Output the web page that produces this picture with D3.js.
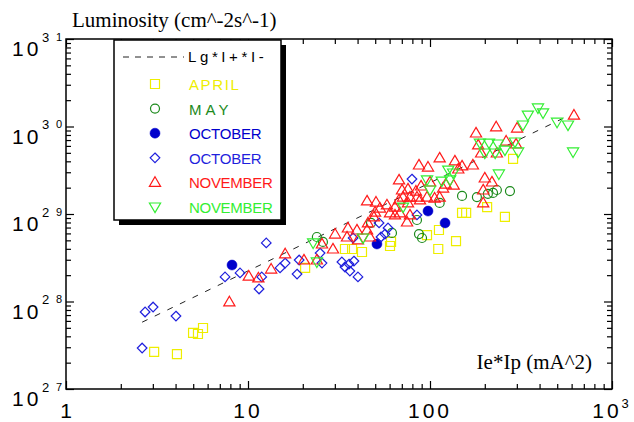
<!DOCTYPE html>
<html>
<head>
<meta charset="utf-8">
<style>
body { margin: 0; background: #fff; }
svg { display: block; }
.axis .domain { display: none; }
.axis line { stroke: #000; stroke-width: 1.2; }
.tick-lab { font-family: "Liberation Sans", Arial, sans-serif; fill: #000; }
.title { font-family: "Liberation Serif", "Times New Roman", serif; font-size: 21px; fill: #000; }
.leg { font-family: "Liberation Sans", Arial, sans-serif; font-size: 15px; }
</style>
</head>
<body>
<div id="container"></div>
<script src="https://cdn.jsdelivr.net/npm/d3@7"></script>
<script>
var width = 634, height = 422;
var margin = {top: 39, right: 22, bottom: 33, left: 66};
var w = width - margin.left - margin.right,
    h = height - margin.top - margin.bottom;

// axis ticks / labels
var xTicks = [1, 10, 100, 1000];
var xTickLabels = ["1", "10", "100", "10"];
var xTickSup = ["", "", "", "3"];
var yTicks = [1e31, 1e30, 1e29, 1e28, 1e27];
var yTickSup = ["3", "3", "2", "2", "2"];
var yTickSmall = ["1", "0", "9", "8", "7"];

// fit line Lg*I+*I-
var fitX = [2.62, 573];
var fitY = [5.8e27, 1.32e30];

// APRIL (open squares)
var aprilX = [5.66, 4.99, 5.31, 3.05, 4.07, 150, 158, 112, 96.3, 139, 111, 61.1, 60.3, 34.1, 37.3, 42.3, 20.6, 286, 206, 258];
var aprilY = [4.98e27, 4.37e27, 4.25e27, 2.65e27, 2.51e27, 1.03e29, 1.03e29, 6.56e28, 5.75e28, 4.91e28, 3.98e28, 4.79e28, 4.31e28, 3.98e28, 3.98e28, 3.68e28, 2.42e28, 4.26e29, 1.20e29, 9.25e28];

// MAY (open circles)
var mayX = [150, 181, 113, 84.8, 87, 90.4, 61.8, 47.4, 23.9, 25.8, 208, 222, 233, 275];
var mayY = [1.61e29, 1.56e29, 1.34e29, 8.54e28, 5.9e28, 5.32e28, 6.07e28, 7.9e28, 5.46e28, 4.79e28, 1.70e29, 1.74e29, 1.88e29, 1.83e29];

// OCTOBER (filled circles)
var octAX = [8.17, 51.1, 97.5, 121];
var octAY = [2.61e28, 4.54e28, 1.08e29, 7.9e28];

// OCTOBER (open diamonds)
var octBX = [12.6, 7.48, 9.04, 11.5, 11.9, 15.0, 16.0, 18.6, 19.1, 2.72, 3.01, 4.02, 2.62, 79.6, 52.5, 58.8, 56.6, 53.8, 84.8, 37.8, 32.8, 35.9, 38.2, 34.1, 24.9, 25.5, 36.3, 40.2];
var octBY = [4.67e28, 1.91e28, 2.12e28, 1.39e28, 1.91e28, 2.42e28, 2.75e28, 2.06e28, 2.98e28, 7.59e27, 8.65e27, 6.82e27, 2.94e27, 2.51e29, 7.9e28, 6.92e28, 5.9e28, 5.46e28, 9.75e28, 5.32e28, 2.83e28, 2.68e28, 2.9e28, 2.48e28, 3.58e28, 2.75e28, 2.23e28, 1.91e28];

// NOVEMBER (red triangles)
var novAX = [16, 13.4, 10.1, 11.4, 7.9, 113, 87, 97.5, 137, 143, 67.6, 75.7, 70.2, 83.7, 89.3, 100, 84.8, 77.6, 71.1, 67.6, 75.7, 88.1, 96.3, 106, 113, 45.1, 50.5, 58.0, 64.2, 49.9, 53.1, 60.3, 68.4, 77.6, 74.8, 64.2, 45.6, 49.2, 45.1, 39.7, 35.4, 30.1, 35.0, 40.2, 46.8, 25.5, 29.3, 20.3, 23.9, 135, 122, 150, 179, 172, 618, 231, 301, 184, 262, 297, 191, 233, 200, 219, 196, 196, 118];
var novAY = [3.5e28, 2.35e28, 1.95e28, 1.86e28, 9.9e27, 4.37e29, 3.63e29, 3.44e29, 4.04e29, 3.27e29, 2.45e29, 1.93e29, 1.88e29, 1.83e29, 2.09e29, 2.32e29, 1.56e29, 1.56e29, 1.56e29, 1.45e29, 1.34e29, 1.45e29, 1.56e29, 1.52e29, 1.56e29, 1.41e29, 1.37e29, 1.27e29, 1.20e29, 1.05e29, 1.17e29, 1.03e29, 1.03e29, 9.75e28, 8.1e28, 9.75e28, 7.9e28, 9.25e28, 6.56e28, 6.56e28, 6.92e28, 5.9e28, 5.46e28, 5.05e28, 5.46e28, 4.54e28, 3.98e28, 2.98e28, 2.98e28, 2.14e29, 2.2e29, 3.54e29, 8.43e29, 3.63e29, 1.35e30, 9.9e29, 9.6e29, 6.15e29, 6.82e29, 6.31e29, 4.98e29, 4.98e29, 2.58e29, 2.32e29, 1.88e29, 1.34e29, 1.98e29];

// NOVEMBER (green inverted triangles)
var novBX = [96.3, 100, 116, 126, 129, 71.1, 42.8, 22.8, 23.9, 188, 392, 418, 345, 324, 499, 573, 611, 211, 236, 200, 228, 258, 293, 305, 239, 134];
var novBY = [2.45e29, 1.88e29, 2.38e29, 3.18e29, 2.45e29, 1.20e29, 5.32e28, 4.67e28, 2.83e28, 6.47e29, 1.63e30, 1.43e30, 1.35e30, 1.04e30, 1.12e30, 1.04e30, 5.12e29, 6.47e29, 6.31e29, 4.98e29, 4.98e29, 5.38e29, 6.65e29, 5.12e29, 2.87e29, 2.94e29];

var legendLabels = ["APRIL", "MAY", "OCTOBER", "OCTOBER", "NOVEMBER", "NOVEMBER"];

var shapes = {
  square: "M-4.5,-4.5h9v9h-9Z",
  circle: "M-4.5,0a4.5,4.5 0 1,0 9,0a4.5,4.5 0 1,0 -9,0Z",
  dot: "M-5,0a5,5 0 1,0 10,0a5,5 0 1,0 -10,0Z",
  diamond: "M0,-4.8L4.8,0L0,4.8L-4.8,0Z",
  up: "M0,-5.6L5.6,4L-5.6,4Z",
  down: "M0,5.6L5.6,-4L-5.6,-4Z"
};

var series = [
  {xs: aprilX, ys: aprilY, color: "#eeee00", shape: "square", fill: false, ls: 1.6},
  {xs: mayX, ys: mayY, color: "#1c8a1c", shape: "circle", fill: false, ls: 4},
  {xs: octAX, ys: octAY, color: "#0000cc", shape: "dot", fill: true, ls: -0.2},
  {xs: octBX, ys: octBY, color: "#1f1fdd", shape: "diamond", fill: false, ls: -0.2},
  {xs: novAX, ys: novAY, color: "#ff1a1a", shape: "up", fill: false, ls: -0.3},
  {xs: novBX, ys: novBY, color: "#33ee33", shape: "down", fill: false, ls: -0.3}
];

var svg = d3.select("#container").append("svg")
    .attr("width", width).attr("height", height);

var g = svg.append("g").attr("transform", "translate(" + margin.left + "," + margin.top + ")");

var x = d3.scaleLog().domain([1, 1000]).range([0, w]);
var y = d3.scaleLog().domain([1e27, 1e31]).range([h, 0]);

// minor tick values
var xMinor = [];
[1, 10, 100].forEach(function(d) { for (var k = 2; k <= 9; k++) xMinor.push(d * k); });
var yMinor = [];
[1e27, 1e28, 1e29, 1e30].forEach(function(d) { for (var k = 2; k <= 9; k++) yMinor.push(d * k); });

function addAxes(axisFn, scale, tr, minorVals, majorVals) {
  g.append("g").attr("class", "axis").attr("transform", tr)
    .call(axisFn(scale).tickValues(minorVals).tickSize(-5).tickFormat(""));
  g.append("g").attr("class", "axis").attr("transform", tr)
    .call(axisFn(scale).tickValues(majorVals).tickSize(-8).tickFormat(""));
}
addAxes(d3.axisBottom, x, "translate(0," + h + ")", xMinor, xTicks);
addAxes(d3.axisTop, x, "translate(0,0)", xMinor, xTicks);
addAxes(d3.axisLeft, y, "translate(0,0)", yMinor, yTicks);
addAxes(d3.axisRight, y, "translate(" + w + ",0)", yMinor, yTicks);

g.append("rect").attr("width", w).attr("height", h)
  .attr("fill", "none").attr("stroke", "#000").attr("stroke-width", 1.5);

// x tick labels
var xl = g.append("g").selectAll("text").data(xTicks).enter().append("text")
  .attr("class", "tick-lab")
  .attr("x", function(d) { return x(d); })
  .attr("y", h + 29)
  .attr("text-anchor", "middle")
  .attr("font-size", 21)
  .attr("letter-spacing", function(d, i) { return i == 0 ? 0 : 3; });
xl.append("tspan").text(function(d, i) { return xTickLabels[i]; });
xl.append("tspan").attr("font-size", 13).attr("dy", -10).attr("dx", 0)
  .text(function(d, i) { return xTickSup[i]; });

// y tick labels
var yl = g.append("g").selectAll("g").data(yTicks).enter().append("g")
  .attr("transform", function(d) { return "translate(0," + y(d) + ")"; });
yl.append("text").attr("class", "tick-lab").attr("x", -54).attr("y", 17)
  .attr("font-size", 21).attr("letter-spacing", 3).text("10");
yl.append("text").attr("class", "tick-lab").attr("x", -24).attr("y", 2.5)
  .attr("font-size", 13).text(function(d, i) { return yTickSup[i]; });
yl.append("text").attr("class", "tick-lab").attr("x", -10).attr("y", 1.5)
  .attr("font-size", 11).text(function(d, i) { return yTickSmall[i]; });

// axis titles
svg.append("text").attr("class", "title").attr("x", 72).attr("y", 27)
  .text("Luminosity (cm^-2s^-1)");
svg.append("text").attr("class", "title").attr("x", 592).attr("y", 369)
  .attr("text-anchor", "end").attr("font-size", 20).text("Ie*Ip (mA^2)");

// fit line
var line = d3.line().x(function(d) { return x(d[0]); }).y(function(d) { return y(d[1]); });
g.append("path").datum(d3.zip(fitX, fitY))
  .attr("d", line).attr("fill", "none").attr("stroke", "#222")
  .attr("stroke-width", 1).attr("stroke-dasharray", "6,8");

// points
series.forEach(function(s) {
  g.append("g").selectAll("path").data(d3.zip(s.xs, s.ys)).enter().append("path")
    .attr("transform", function(d) { return "translate(" + x(d[0]) + "," + y(d[1]) + ")"; })
    .attr("d", shapes[s.shape])
    .attr("fill", s.fill ? s.color : "none")
    .attr("stroke", s.color)
    .attr("stroke-width", s.fill ? 0.5 : 1.2);
});

// legend
var lg = svg.append("g").attr("transform", "translate(114,40)");
lg.append("rect").attr("x", 5).attr("y", 5).attr("width", 167).attr("height", 180).attr("fill", "#000");
lg.append("rect").attr("width", 167).attr("height", 180)
  .attr("fill", "#fff").attr("stroke", "#000").attr("stroke-width", 1.5);
lg.append("line").attr("x1", 9).attr("x2", 70).attr("y1", 17).attr("y2", 17)
  .attr("stroke", "#222").attr("stroke-dasharray", "6,6");
lg.append("text").attr("class", "leg").attr("x", 74).attr("y", 22)
  .attr("font-size", 14).attr("letter-spacing", 3.6).attr("fill", "#000").text("Lg*I+*I-");

var rows = lg.selectAll("g.row").data(series).enter().append("g")
  .attr("transform", function(d, i) { return "translate(0," + (44 + i * 24.6) + ")"; });
rows.append("path").attr("transform", "translate(41,0)")
  .attr("d", function(d) { return shapes[d.shape]; })
  .attr("fill", function(d) { return d.fill ? d.color : "none"; })
  .attr("stroke", function(d) { return d.color; })
  .attr("stroke-width", function(d) { return d.fill ? 0.5 : 1.2; });
rows.append("text").attr("class", "leg").attr("x", 75).attr("y", 6)
  .attr("fill", function(d) { return d.color; })
  .attr("letter-spacing", function(d) { return d.ls; })
  .text(function(d, i) { return legendLabels[i]; });
</script>
</body>
</html>
